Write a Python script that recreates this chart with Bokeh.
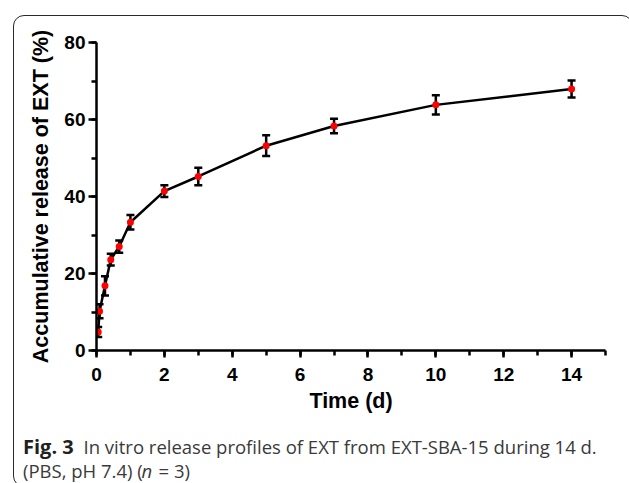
from bokeh.plotting import figure
from bokeh.layouts import column
from bokeh.models import (ColumnDataSource, Whisker, TeeHead, FixedTicker, Range1d, Div)
from bokeh.core.properties import value
from bokeh.embed import file_html
from bokeh.resources import INLINE

# ---- data ----
time_d = [0.05, 0.09, 0.25, 0.42, 0.67, 1, 2, 3, 5, 7, 10, 14]
release = [4.8, 10.2, 16.8, 23.6, 27.0, 33.3, 41.4, 45.2, 53.2, 58.3, 63.8, 67.9]
sd = [1.3, 1.8, 2.5, 1.5, 1.6, 1.9, 1.5, 2.3, 2.7, 1.9, 2.5, 2.2]

x_major = [0, 2, 4, 6, 8, 10, 12, 14]
x_minor = list(range(0, 16))
y_major = [0, 20, 40, 60, 80]
y_minor = [0, 10, 20, 30, 40, 50, 60, 70, 80]

x_title = "Time (d)"
y_title = "Accumulative release of EXT (%)"
cap_bold = "Fig. 3"
cap_line1 = "In vitro release profiles of EXT from EXT-SBA-15 during 14 d."
cap_line2a = "(PBS, pH 7.4) ("
cap_line2n = "n"
cap_line2b = "= 3)"

src = ColumnDataSource(dict(
    t=time_d, r=release,
    lo=[a - b for a, b in zip(release, sd)],
    hi=[a + b for a, b in zip(release, sd)],
))

W = 629
H1 = 425
H2 = 483 - H1

p = figure(width=W, height=H1, x_range=Range1d(0, 15), y_range=Range1d(0, 80),
           output_backend="svg", toolbar_location=None,
           min_border_left=96, min_border_right=24, min_border_top=42,
           min_border_bottom=H1 - 42 - 308)
p.frame_align = False
p.outline_line_color = None
p.grid.visible = False
p.background_fill_color = "white"
p.border_fill_color = "white"

for ax in (p.xaxis[0], p.yaxis[0]):
    ax.axis_line_width = 2.5
    ax.axis_line_color = "black"
    ax.major_tick_line_width = 2.5
    ax.minor_tick_line_width = 2.5
    ax.major_tick_line_color = "black"
    ax.minor_tick_line_color = "black"
    ax.major_tick_in = 0
    ax.minor_tick_in = 0
    ax.major_label_text_font = "Liberation Sans"
    ax.major_label_text_font_style = "bold"
    ax.major_label_text_font_size = "19px"
    ax.major_label_text_color = "black"
    ax.axis_label_text_font = "Liberation Sans"
    ax.axis_label_text_font_style = "bold"
    ax.axis_label_text_font_size = "21.5px"
    ax.axis_label_text_color = "black"

p.xaxis.ticker = FixedTicker(ticks=x_major, minor_ticks=x_minor)
p.yaxis.ticker = FixedTicker(ticks=y_major, minor_ticks=y_minor)
p.xaxis.major_tick_out = 7
p.xaxis.minor_tick_out = 5
p.yaxis.major_tick_out = 8
p.yaxis.minor_tick_out = 5
p.xaxis.major_label_standoff = 10
p.yaxis.major_label_standoff = 3
p.xaxis.axis_label = x_title
p.yaxis.axis_label = y_title
p.xaxis.axis_label_standoff = 5
p.yaxis.axis_label_standoff = 8

p.line("t", "r", source=src, line_width=2.5, line_color="black")
wh = Whisker(base="t", lower="lo", upper="hi", source=src, line_width=2.5, line_color="black",
             upper_head=TeeHead(size=8, line_width=2.5, line_color="black"),
             lower_head=TeeHead(size=8, line_width=2.5, line_color="black"))
p.add_layout(wh)
p.scatter("t", "r", source=src, size=7, fill_color="#ff0000", line_color=None)

# ---- caption panel (pixel coordinates, y downward) ----
c = figure(width=W, height=H2, x_range=Range1d(0, W), y_range=Range1d(H2, 0),
           output_backend="svg", toolbar_location=None,
           x_axis_type=None, y_axis_type=None,
           min_border=0, min_border_left=0, min_border_right=0,
           min_border_top=0, min_border_bottom=0)
c.frame_align = False
c.outline_line_color = None
c.grid.visible = False
c.background_fill_color = "white"
c.border_fill_color = "white"

y1 = 446 - H1
y2 = 470 - H1
c.text(x=[22.5], y=[y1], text=[cap_bold], text_font=value("Open Sans"),
       text_font_style="bold", text_font_size=value("20px"), text_color="#231f20",
       text_baseline="alphabetic", text_align="left")
c.text(x=[83], y=[y1], text=[cap_line1], text_font=value("Open Sans"),
       text_font_size=value("18.5px"), text_color="#3a3a3a",
       text_baseline="alphabetic", text_align="left")
c.text(x=[22.5], y=[y2], text=[cap_line2a], text_font=value("Open Sans"),
       text_font_size=value("18.5px"), text_color="#3a3a3a",
       text_baseline="alphabetic", text_align="left")
c.text(x=[141], y=[y2], text=[cap_line2n], text_font=value("Open Sans"),
       text_font_style="italic", text_font_size=value("18.5px"), text_color="#3a3a3a",
       text_baseline="alphabetic", text_align="left")
c.text(x=[158], y=[y2], text=[cap_line2b], text_font=value("Open Sans"),
       text_font_size=value("18.5px"), text_color="#3a3a3a",
       text_baseline="alphabetic", text_align="left")

# ---- rounded frame around the whole panel ----
border = Div(text="", width=620, height=472,
             styles={"position": "absolute", "left": "8px", "top": "10px",
                     "width": "620px", "height": "472px", "box-sizing": "border-box",
                     "border": "1.6px solid #2a2a2a", "border-radius": "11px",
                     "pointer-events": "none", "background": "transparent"})

layout = column(p, c, border, spacing=0)
open("out.html", "w").write(file_html(layout, INLINE))
